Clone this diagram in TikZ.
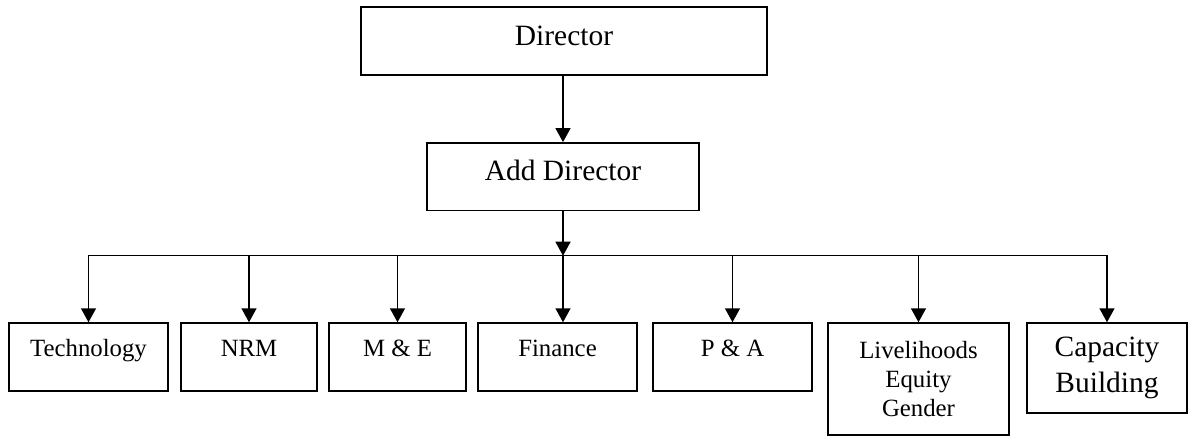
\documentclass[tikz,border=0pt]{standalone}
\usepackage{fontspec}
\setmainfont{Liberation Serif}
\usetikzlibrary{arrows.meta}

\tikzset{
  box/.style={draw, line width=1.1pt, inner sep=0pt, align=center},
  headtext/.style={font=\fontsize{22.1}{26}\selectfont, text height=28.5pt, text depth=22.3pt},
  unittext/.style={font=\fontsize{18.6}{21.75}\selectfont, text height=25.3pt, text depth=25.7pt},
  link/.style={line width=1.1pt, -{Triangle[length=10.5pt,width=11.25pt]}},
}

\begin{document}
\begin{tikzpicture}[x=0.75pt,y=0.75pt,yscale=-1,xscale=1]
        \useasboundingbox (0,0) rectangle (1189,436);

        % Top boxes
        \node [box,headtext,minimum width=304.5pt] (dir) at (564,41) {Director};
        \node [box,headtext,minimum width=204pt] (add) at (563,176.7) {Add Director};

        % Unit boxes
        \node [box,unittext,minimum width=119.25pt] (tech) at (88.5,357) {Technology};
        \node [box,unittext,minimum width=102pt] (nrm) at (249,357) {NRM};
        \node [box,unittext,minimum width=102.75pt] (me) at (397.5,357) {M \& E};
        \node [box,unittext,minimum width=119.25pt] (fin) at (557.5,357) {Finance};
        \node [box,unittext,minimum width=119.25pt] (pa) at (732.5,357) {P \& A};
        \node [box,minimum width=135.75pt,minimum height=84pt,font=\fontsize{18.6}{21.75}\selectfont] (live) at (918.5,379) {Livelihoods\\Equity\\Gender};
        \node [box,minimum width=120pt,minimum height=67.5pt,font=\fontsize{22.1}{27}\selectfont] (cap) at (1107,368) {Capacity\\Building};

        % Connectors
        \coordinate (bus) at (563,255.7);
        \draw [link] (add.north |- dir.south) -- (add.north);
        \draw [link] (add.south) -- (bus);
        \draw [line width=1.1pt,line cap=rect] (tech.north |- bus) -- (cap.north |- bus);
        \draw [link] (bus) -- (bus |- fin.north);
        \foreach \n in {tech,nrm,me,pa,live,cap}
          \draw [link] (\n.north |- bus) -- (\n.north);
    \end{tikzpicture}
\end{document}
